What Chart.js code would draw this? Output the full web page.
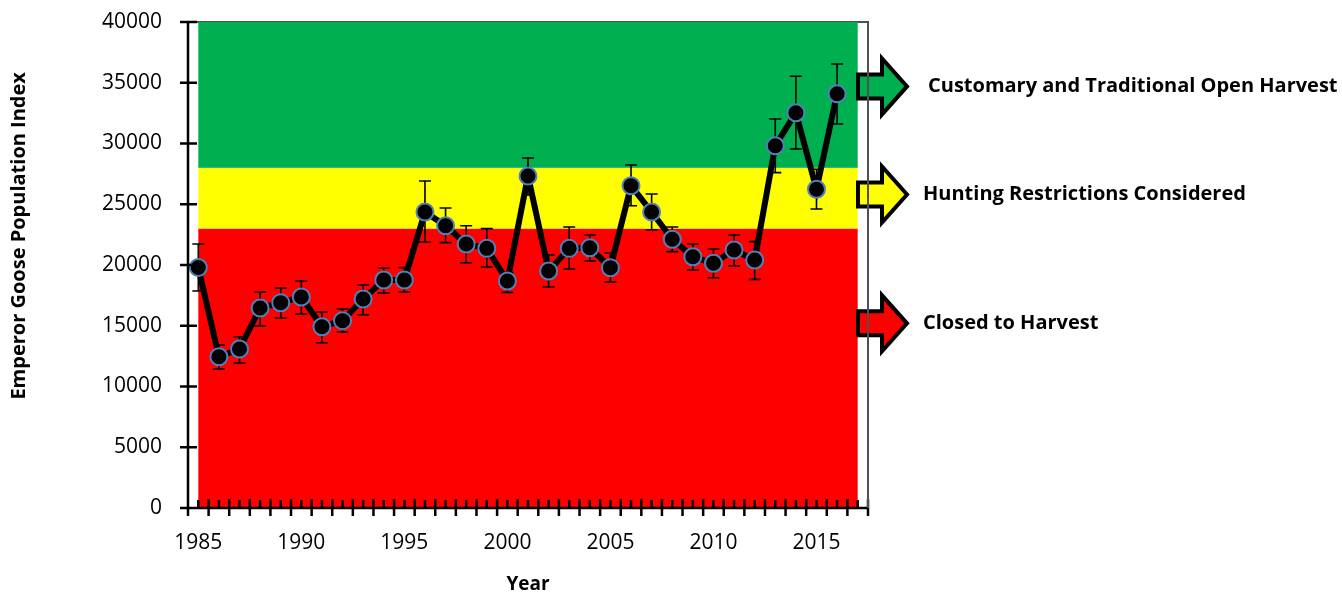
<!DOCTYPE html>
<html>
<head>
<meta charset="utf-8">
<script src="https://cdn.jsdelivr.net/npm/chart.js@4.4.1/dist/chart.umd.min.js"></script>
<style>
  body { margin: 0; background: #fff; }
  #wrap { width: 1342px; height: 594px; }
</style>
</head>
<body>
<div id="wrap"><canvas id="chartGoose" width="1342" height="594"></canvas></div>
<script>
// Emperor goose population index, with error bar ends
const years = [1985, 1986, 1987, 1988, 1989, 1990, 1991, 1992, 1993, 1994, 1995, 1996, 1997, 1998, 1999, 2000,
  2001, 2002, 2003, 2004, 2005, 2006, 2007, 2008, 2009, 2010, 2011, 2012, 2013, 2014, 2015, 2016]
const popIndex = [19800, 12450, 13090, 16460, 16900, 17370, 14920, 15420, 17200, 18770, 18770, 24360, 23230, 21730, 21370, 18680,
  27330, 19510, 21370, 21420, 19780, 26530, 24360, 22120, 20680, 20140, 21230, 20410, 29820, 32530, 26230, 34100]
const errLow = [17860, 11440, 11930, 14980, 15640, 15970, 13600, 14490, 15910, 17700, 17780, 21890, 21840, 20190, 19840, 17750,
  25760, 18190, 19670, 20330, 18600, 24880, 22880, 21100, 19590, 18950, 19920, 18820, 27600, 29550, 24610, 31600]
const errHigh = [21730, 13420, 14100, 17780, 18110, 18680, 16130, 16380, 18350, 19750, 19780, 26910, 24690, 23230, 22990, 19370,
  28810, 20820, 23130, 22470, 20990, 28230, 25840, 23130, 21730, 21320, 22470, 21920, 32020, 35530, 27880, 36540]

const xTicks = [1985, 1990, 1995, 2000, 2005, 2010, 2015]
const yTicks = [0, 5000, 10000, 15000, 20000, 25000, 30000, 35000, 40000]

// management zones
const zoneFloor = [0, 23000, 28000]
const zoneTop = [23000, 28000, 40000]
const zoneNames = ['Closed to Harvest', 'Hunting Restrictions Considered', 'Customary and Traditional Open Harvest']
const zoneColors = ['#ff0000', '#ffff00', '#00b050']
const arrowAt = [15200, 25800, 34700]

const yTitle = 'Emperor Goose Population Index'

const FONT = "'Open Sans', 'Liberation Sans', sans-serif"

const goosePlugin = {
  id: 'gooseZones',
  beforeDatasetsDraw(chart) {
    const { ctx, chartArea: a, scales: { x, y } } = chart
    ctx.save()
    // plot area border (grey)
    ctx.strokeStyle = '#505050'
    ctx.lineWidth = 2
    ctx.strokeRect(a.left, a.top, a.right - a.left, a.bottom - a.top)
    // coloured bands, 1985 to 2017
    const x0 = x.getPixelForValue(1985)
    const x1 = x.getPixelForValue(2017)
    zoneFloor.forEach((lo, i) => {
      const top = y.getPixelForValue(zoneTop[i])
      const bot = y.getPixelForValue(lo)
      ctx.fillStyle = zoneColors[i]
      ctx.fillRect(x0, top, x1 - x0, bot - top)
    })
    // error bars
    ctx.strokeStyle = '#000'
    ctx.lineWidth = 1.6
    years.forEach((yr, i) => {
      const px = x.getPixelForValue(yr)
      const hi = y.getPixelForValue(errHigh[i])
      const lo = y.getPixelForValue(errLow[i])
      ctx.beginPath()
      ctx.moveTo(px, hi); ctx.lineTo(px, lo)
      ctx.moveTo(px - 6, hi); ctx.lineTo(px + 6, hi)
      ctx.moveTo(px - 6, lo); ctx.lineTo(px + 6, lo)
      ctx.stroke()
    })
    ctx.restore()
  },
  afterDraw(chart) {
    const { ctx, chartArea: a, scales: { x, y } } = chart
    ctx.save()
    ctx.strokeStyle = '#000'
    ctx.lineWidth = 2.5
    // y axis + ticks
    ctx.beginPath()
    ctx.moveTo(a.left, a.top); ctx.lineTo(a.left, a.bottom)
    yTicks.forEach(v => {
      const py = y.getPixelForValue(v)
      ctx.moveTo(a.left - 8, py); ctx.lineTo(a.left + 9, py)
    })
    // x axis, crossing ticks on year boundaries, short ticks on years
    ctx.moveTo(a.left - 8, a.bottom); ctx.lineTo(a.right, a.bottom)
    for (let yr = 1984.5; yr <= 2017.5; yr++) {
      const px = x.getPixelForValue(yr)
      ctx.moveTo(px, a.bottom - 9); ctx.lineTo(px, a.bottom + 8)
    }
    for (let yr = 1985; yr <= 2017; yr++) {
      const px = x.getPixelForValue(yr)
      ctx.moveTo(px, a.bottom - 8); ctx.lineTo(px, a.bottom)
    }
    ctx.stroke()

    // y axis title, sits a bit above the middle of the plot
    ctx.save()
    ctx.translate(19, a.top + (a.bottom - a.top) * 0.44)
    ctx.rotate(-Math.PI / 2)
    ctx.fillStyle = '#000'
    ctx.font = "bold 20px " + FONT
    ctx.textAlign = 'center'
    ctx.textBaseline = 'middle'
    ctx.fillText(yTitle, 0, 0)
    ctx.restore()

    // arrows and zone labels on the right
    zoneNames.forEach((name, i) => {
      const cy = y.getPixelForValue(arrowAt[i])
      const sx = a.right - 10
      ctx.beginPath()
      ctx.moveTo(sx, cy - 12)
      ctx.lineTo(sx + 24, cy - 12)
      ctx.lineTo(sx + 24, cy - 28)
      ctx.lineTo(sx + 49, cy)
      ctx.lineTo(sx + 24, cy + 28)
      ctx.lineTo(sx + 24, cy + 12)
      ctx.lineTo(sx, cy + 12)
      ctx.closePath()
      ctx.fillStyle = zoneColors[i]
      ctx.fill()
      ctx.lineWidth = 4
      ctx.lineJoin = 'miter'
      ctx.stroke()
      ctx.fillStyle = '#000'
      ctx.font = "bold 20px " + FONT
      ctx.textBaseline = 'middle'
      ctx.fillText(name, a.right + (i === 2 ? 60 : 55), cy)
    })
    // right border line drawn over arrows
    ctx.strokeStyle = '#505050'
    ctx.lineWidth = 2
    ctx.beginPath()
    ctx.moveTo(a.right, a.top); ctx.lineTo(a.right, a.bottom)
    ctx.stroke()
    ctx.restore()
  }
}

const ctx = document.getElementById('chartGoose').getContext('2d')
new Chart(ctx, {
  type: 'line',
  data: {
    datasets: [{
      label: 'Emperor Goose Population Index',
      data: years.map((yr, i) => ({ x: yr, y: popIndex[i] })),
      borderColor: '#000',
      borderWidth: 6,
      pointRadius: 8.5,
      pointBackgroundColor: '#000',
      pointBorderColor: '#4f81bd',
      pointBorderWidth: 2,
      tension: 0,
      clip: false
    }]
  },
  options: {
    responsive: false,
    animation: false,
    devicePixelRatio: 1,
    layout: { padding: { left: 0, top: 22, right: 474, bottom: 0 } },
    plugins: { legend: { display: false }, tooltip: { enabled: false } },
    scales: {
      x: {
        type: 'linear',
        min: 1984.5,
        max: 2017.5,
        afterBuildTicks: s => { s.ticks = xTicks.map(v => ({ value: v })) },
        afterFit: s => { s.height = 86; s.paddingLeft = 0; s.paddingRight = 0 },
        grid: { display: false, drawTicks: false },
        border: { display: false },
        ticks: { color: '#000', font: { family: FONT, size: 21 }, padding: 22, maxRotation: 0, callback: v => String(v) },
        title: { display: true, text: 'Year', color: '#000', font: { family: FONT, size: 19, weight: 'bold', lineHeight: 1 }, padding: { top: 0, bottom: 0 } }
      },
      y: {
        min: 0,
        max: 40000,
        afterBuildTicks: s => { s.ticks = yTicks.map(v => ({ value: v })) },
        afterFit: s => { s.width = 188; s.paddingTop = 0; s.paddingBottom = 0 },
        grid: { display: false, drawTicks: false },
        border: { display: false },
        ticks: { color: '#000', font: { family: FONT, size: 21 }, padding: 26, callback: v => String(v) }
      }
    }
  },
  plugins: [goosePlugin]
})
</script>
</body>
</html>
